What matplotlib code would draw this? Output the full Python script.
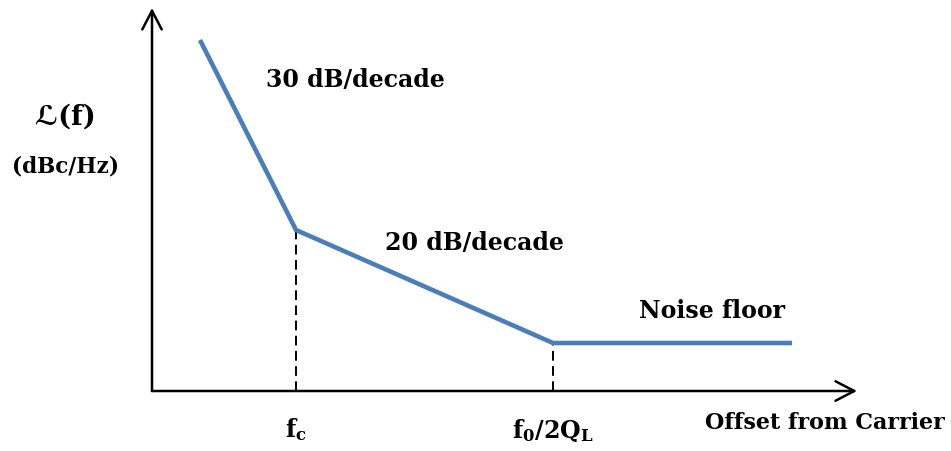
"""Curva de ruido de fase (modelo de Leeson) em forma assintotica."""

import matplotlib.pyplot as plt

# Pontos de quebra da curva (unidades arbitrarias: log da frequencia e dB).
offset_log = [0.48, 1.44, 4.01, 6.40]
ruido_db = [3.51, 1.61, 0.48, 0.48]

# Marcadores no eixo x.
marcas_x = [1.44, 4.01]
marcas_rotulos = [r"$\mathbf{f}_{\mathbf{c}}$",
                  r"$\mathbf{f}_{\mathbf{0}}\mathbf{/2Q}_{\mathbf{L}}$"]

W, H = 951, 451


def px(x, y):
    return x / W, 1 - y / H


def main() -> None:
    plt.rcParams["font.family"] = ["DejaVu Serif", "DejaVu Sans"]
    plt.rcParams["font.weight"] = "bold"
    plt.rcParams["mathtext.fontset"] = "dejavuserif"

    fig = plt.figure(figsize=(W / 100, H / 100), dpi=100)
    x0, y0 = 152, 391
    x1, y1 = 857, 8
    ax = fig.add_axes([x0 / W, 1 - y0 / H, (x1 - x0) / W, (y0 - y1) / H])
    ax.set_xlim(0, (x1 - x0) / 100)
    ax.set_ylim(0, (y0 - y1) / 100)
    ax.axis("off")

    # Eixos com setas abertas.
    seta = dict(arrowstyle="->,head_length=1.35,head_width=0.7",
                lw=1.8, color="black", shrinkA=0, shrinkB=0)
    ax.annotate("", xy=(1, 0), xytext=(0, 0), xycoords="axes fraction",
                arrowprops=seta, annotation_clip=False)
    ax.annotate("", xy=(0, 1), xytext=(0, 0), xycoords="axes fraction",
                arrowprops=seta, annotation_clip=False)

    # Linhas tracejadas ate o eixo.
    for xm, ym in zip(marcas_x, [ruido_db[1], ruido_db[2]]):
        ax.plot([xm, xm], [0, ym], color="black", lw=1.4,
                linestyle=(0, (5, 2.8)), clip_on=False)

    ax.plot(offset_log, ruido_db, color="#4a7ebb", lw=3.3,
            solid_capstyle="butt", solid_joinstyle="miter", clip_on=False)

    fs = 17
    fig.text(*px(355, 80), "30 dB/decade", ha="center", va="center", fontsize=fs)
    fig.text(*px(474, 243), "20 dB/decade", ha="center", va="center", fontsize=fs)
    fig.text(*px(712, 311), "Noise floor", ha="center", va="center", fontsize=fs)
    fig.text(*px(825, 423), "Offset from Carrier", ha="center", va="center",
             fontsize=16)
    fig.text(*px(65, 117), "\u2112(f)", ha="center", va="center", fontsize=19.5)
    fig.text(*px(65, 166), "(dBc/Hz)", ha="center", va="center", fontsize=15.5)

    for xm, rotulo in zip(marcas_x, marcas_rotulos):
        xp = x0 + xm * 100
        fig.text(*px(xp, 430), rotulo, ha="center", va="center", fontsize=fs)

    fig.savefig("out.png", dpi=100)
    plt.close(fig)


if __name__ == "__main__":
    main()
